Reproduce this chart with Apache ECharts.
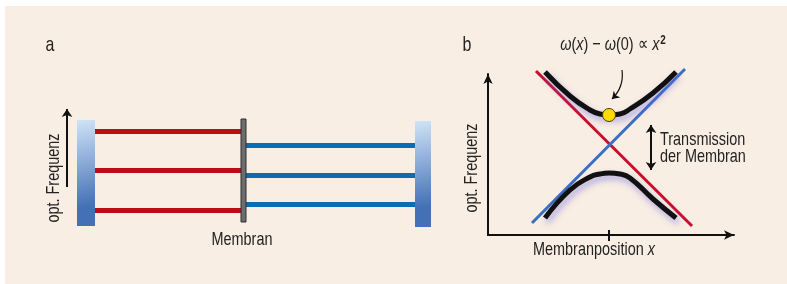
<!DOCTYPE html>
<html>
<head>
<meta charset="utf-8">
<script src="https://cdn.jsdelivr.net/npm/echarts@6/dist/echarts.min.js"></script>
<style>
  html, body { margin: 0; padding: 0; background: #fff; }
  #chart { width: 787px; height: 284px; }
</style>
</head>
<body>
<div id="chart"></div>
<script>
// panel a: cavity with membrane (units: x along cavity, y optical frequency)
const redLevels = [96, 57, 17];        // modes of the left sub-cavity
const blueLevels = [82, 52, 23];       // modes of the right sub-cavity
const mirrorBoxes = [[0, 18, 1, 107], [338, 354, 0, 106]]; // x0, x1, y0, y1
const membraneBox = [164, 169, 5, 108];

// panel b: avoided crossing (x membrane position, y frequency)
const branchX = [-64, -39, -19, -9, 0, 11, 21, 44, 67];
const upperBranch = [163, 139, 125, 121, 120, 121, 126, 142, 163];
const lowerBranch = [17, 45, 58, 61, 62, 61, 57, 36, 17];
const redMode = [[-73, 164], [83, 9]];
const blueMode = [[-77, 12], [76, 166]];
const minimumPoint = [0, 120];

const FAMILY = '"Liberation Sans", Arial, sans-serif';
const TXT = '#232323';
const NARROW = 0.76;

const chart = echarts.init(document.getElementById('chart'));

function rectItem(fill, stroke) {
    return function (params, api) {
        const p0 = api.coord([api.value(0), api.value(3)]);
        const p1 = api.coord([api.value(1), api.value(2)]);
        return {
            type: 'rect',
            shape: { x: p0[0], y: p0[1], width: p1[0] - p0[0], height: p1[1] - p0[1] },
            style: { fill: fill, stroke: stroke, lineWidth: stroke ? 1 : 0 }
        };
    };
}

// condensed-looking label: a normal sans squeezed horizontally
function label(text, x, y, opts) {
    opts = opts || {};
    return {
        type: 'text', x: x, y: y,
        rotation: opts.rotation || 0,
        scaleX: NARROW,
        style: {
            text: text,
            font: (opts.size || 19) + 'px ' + FAMILY,
            fill: TXT,
            align: opts.align || 'center',
            verticalAlign: 'middle',
            rich: opts.rich
        }
    };
}

const italic = { fontStyle: 'italic', fontSize: 19, fontFamily: FAMILY, fill: TXT };

const mirrorFill = new echarts.graphic.LinearGradient(0, 0, 1, 0.8, [
    { offset: 0, color: '#cfe4f6' },
    { offset: 1, color: '#4570b8' }
]);

chart.setOption({
    backgroundColor: '#fff',
    animation: false,
    grid: [
        { left: 77, top: 119, width: 354, height: 108 },
        { left: 488, top: 74, width: 246, height: 161 }
    ],
    xAxis: [
        { gridIndex: 0, type: 'value', min: 0, max: 354, show: false },
        {
            gridIndex: 1, type: 'value', min: -121, max: 125,
            axisLine: { onZero: false, symbol: ['none', 'arrow'], symbolSize: [7, 10], lineStyle: { color: '#111', width: 2 } },
            axisTick: { show: false }, axisLabel: { show: false }, splitLine: { show: false }
        }
    ],
    yAxis: [
        { gridIndex: 0, type: 'value', min: 0, max: 108, show: false },
        {
            gridIndex: 1, type: 'value', min: 0, max: 161,
            axisLine: { onZero: false, symbol: ['none', 'arrow'], symbolSize: [7, 10], lineStyle: { color: '#111', width: 2 } },
            axisTick: { show: false }, axisLabel: { show: false }, splitLine: { show: false }
        }
    ],
    graphic: [
        { type: 'rect', z: -10, shape: { x: 5, y: 6, width: 782, height: 278 }, style: { fill: '#f9eee3' } },
        label('a', 50, 45, { size: 21 }),
        label('b', 467, 45, { size: 21 }),
        label('opt. Frequenz', 54, 178, { rotation: Math.PI / 2 }),
        label('Membran', 242, 240),
        label('opt. Frequenz', 472, 168, { rotation: Math.PI / 2 }),
        label('Membranposition {i|x}', 594, 250, { rich: { i: italic } }),
        label('{i|ω}({i|x}) − {i|ω}(0) ∝ {i|x}{s|2}', 613, 45, {
            rich: {
                i: italic,
                s: { fontSize: 13, fontWeight: 'bold', fontFamily: FAMILY, fill: TXT, padding: [0, 0, 9, 1] }
            }
        }),
        label('Transmission', 660, 140, { align: 'left' }),
        label('der Membran', 660, 157, { align: 'left' })
    ],
    series: [
        // panel a
        {
            type: 'custom', xAxisIndex: 0, yAxisIndex: 0, clip: false,
            renderItem: rectItem(mirrorFill, null),
            data: mirrorBoxes
        },
        {
            type: 'lines', coordinateSystem: 'cartesian2d', xAxisIndex: 0, yAxisIndex: 0, clip: false,
            lineStyle: { color: '#c00a16', width: 5, opacity: 1 },
            data: redLevels.map(y => ({ coords: [[mirrorBoxes[0][1], y], [membraneBox[0], y]] }))
        },
        {
            type: 'lines', coordinateSystem: 'cartesian2d', xAxisIndex: 0, yAxisIndex: 0, clip: false,
            lineStyle: { color: '#096db3', width: 5, opacity: 1 },
            data: blueLevels.map(y => ({ coords: [[membraneBox[1], y], [mirrorBoxes[1][0], y]] }))
        },
        {
            type: 'custom', xAxisIndex: 0, yAxisIndex: 0, clip: false,
            renderItem: rectItem('#6d6d6d', '#2f2f2f'),
            data: [membraneBox]
        },
        {
            type: 'lines', coordinateSystem: 'cartesian2d', xAxisIndex: 0, yAxisIndex: 0, clip: false,
            symbol: ['none', 'arrow'], symbolSize: 8,
            lineStyle: { color: '#111', width: 2, opacity: 1 },
            data: [{ coords: [[-10, 40], [-10, 118]] }]
        },
        // panel b
        {
            type: 'lines', coordinateSystem: 'cartesian2d', xAxisIndex: 1, yAxisIndex: 1, clip: false,
            lineStyle: { color: '#111', width: 2, opacity: 1 },
            data: [{ coords: [[0, 5], [0, -6]] }]
        },
        {
            type: 'line', xAxisIndex: 1, yAxisIndex: 1, clip: false, showSymbol: false,
            lineStyle: { color: '#c8102e', width: 3 },
            data: redMode
        },
        {
            type: 'line', xAxisIndex: 1, yAxisIndex: 1, clip: false, showSymbol: false,
            lineStyle: { color: '#3c6fc2', width: 3 },
            data: blueMode
        },
        {
            type: 'line', xAxisIndex: 1, yAxisIndex: 1, clip: false, showSymbol: false, smooth: true,
            lineStyle: { color: '#111', width: 5, shadowColor: 'rgba(95,95,225,0.5)', shadowBlur: 6, shadowOffsetX: 2, shadowOffsetY: 4 },
            data: branchX.map((x, i) => [x, upperBranch[i]])
        },
        {
            type: 'line', xAxisIndex: 1, yAxisIndex: 1, clip: false, showSymbol: false, smooth: true,
            lineStyle: { color: '#111', width: 5, shadowColor: 'rgba(95,95,225,0.5)', shadowBlur: 6, shadowOffsetX: 2, shadowOffsetY: 4 },
            data: branchX.map((x, i) => [x, lowerBranch[i]])
        },
        {
            type: 'scatter', xAxisIndex: 1, yAxisIndex: 1, symbolSize: 13, z: 10,
            itemStyle: { color: '#ffdc00', borderColor: '#4a3c00', borderWidth: 1, opacity: 1 },
            data: [minimumPoint]
        },
        {
            type: 'lines', coordinateSystem: 'cartesian2d', xAxisIndex: 1, yAxisIndex: 1, clip: false,
            symbol: ['none', 'arrow'], symbolSize: 7,
            lineStyle: { color: '#111', width: 1.2, curveness: 0.25, opacity: 1 },
            data: [{ coords: [[13, 165], [3, 136]] }]
        },
        {
            type: 'lines', coordinateSystem: 'cartesian2d', xAxisIndex: 1, yAxisIndex: 1, clip: false,
            symbol: ['arrow', 'arrow'], symbolSize: 8,
            lineStyle: { color: '#111', width: 2, opacity: 1 },
            data: [{ coords: [[42, 65], [42, 110]] }]
        }
    ]
});
</script>
</body>
</html>
